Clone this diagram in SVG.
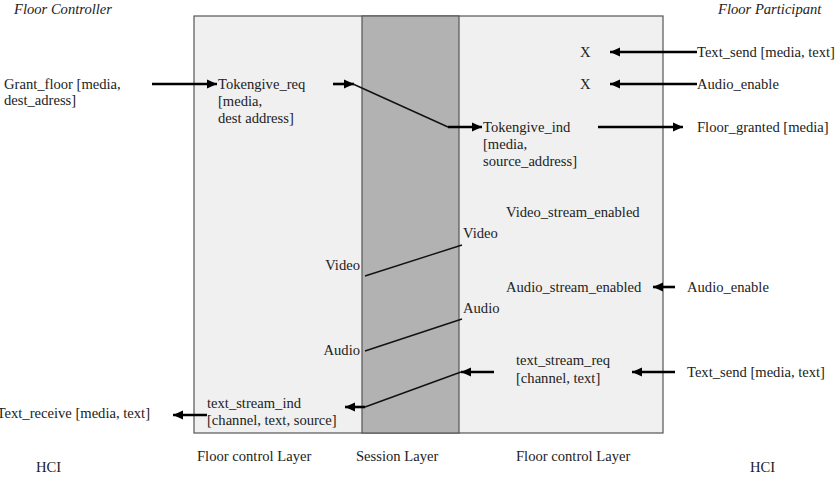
<svg xmlns="http://www.w3.org/2000/svg" width="835" height="486" viewBox="0 0 835 486">
<style>
text{font-family:"Liberation Serif","Times New Roman",serif;font-size:14.6px;fill:#222}
.it{font-style:italic}
.arr{stroke:#000;stroke-width:2.6;fill:none;marker-end:url(#ah)}
.thin{stroke:#111;stroke-width:1.4;fill:none}
</style>
<defs>
<marker id="ah" markerUnits="userSpaceOnUse" markerWidth="11" markerHeight="10" refX="10" refY="5" orient="auto">
<path d="M0,0.5 L10,5 L0,9.5 Z" fill="#000"/>
</marker>
</defs>
<g id="layers">
<rect x="194" y="16" width="469" height="417" fill="#f0f0f0" stroke="#555" stroke-width="1.2"/>
<rect x="362" y="16" width="97" height="417" fill="#b2b2b2" stroke="#555" stroke-width="1.2"/>
</g>
<g id="headers">
<text class="it" x="14" y="14">Floor Controller</text>
<text class="it" x="718" y="14">Floor Participant</text>
<text x="197" y="461">Floor control Layer</text>
<text x="356" y="461">Session Layer</text>
<text x="516" y="461">Floor control Layer</text>
<text x="36" y="472">HCI</text>
<text x="750" y="472">HCI</text>
</g>
<g id="grant_floor"><text x="4" y="89">Grant_floor [media,</text><text x="4" y="105">dest_adress]</text></g>
<g id="tokengive_req"><text x="218" y="89">Tokengive_req</text><text x="218" y="106">[media,</text><text x="218" y="123">dest  address]</text></g>
<g id="tokengive_ind"><text x="483" y="132">Tokengive_ind</text><text x="483" y="149">[media,</text><text x="483" y="166">source_address]</text></g>
<g id="floor_granted"><text x="697" y="132">Floor_granted [media]</text></g>
<g id="x1"><text x="580" y="57">X</text></g>
<g id="x2"><text x="580" y="89">X</text></g>
<g id="text_send_top"><text x="697" y="57">Text_send [media, text]</text></g>
<g id="audio_enable_top"><text x="697" y="89">Audio_enable</text></g>
<g id="video_stream_enabled"><text x="506" y="217">Video_stream_enabled</text></g>
<g id="video_r"><text x="463" y="238">Video</text></g>
<g id="video_l"><text x="360" y="270" text-anchor="end">Video</text></g>
<g id="audio_stream_enabled"><text x="506" y="292">Audio_stream_enabled</text></g>
<g id="audio_enable"><text x="687" y="292">Audio_enable</text></g>
<g id="audio_r"><text x="463" y="313">Audio</text></g>
<g id="audio_l"><text x="360" y="355" text-anchor="end">Audio</text></g>
<g id="text_stream_req"><text x="516" y="365">text_stream_req</text><text x="516" y="383">[channel, text]</text></g>
<g id="text_send"><text x="687" y="377">Text_send [media, text]</text></g>
<g id="text_stream_ind"><text x="207" y="408">text_stream_ind</text><text x="207" y="425">[channel, text, source]</text></g>
<g id="text_receive"><text x="150" y="418" text-anchor="end">Text_receive [media, text]</text></g>
<g id="connectors">
<line class="arr" x1="152" y1="84" x2="217" y2="84"/>
<line class="arr" x1="333" y1="84" x2="354" y2="84"/>
<line class="thin" x1="353" y1="84" x2="448" y2="127"/>
<line class="arr" x1="448" y1="127" x2="482" y2="127"/>
<line class="arr" x1="598" y1="127" x2="683" y2="127"/>
<line class="arr" x1="697" y1="52" x2="610" y2="52"/>
<line class="arr" x1="697" y1="84" x2="610" y2="84"/>
<line class="thin" x1="365" y1="276" x2="462" y2="245"/>
<line class="arr" x1="675" y1="287" x2="653" y2="287"/>
<line class="thin" x1="365" y1="351" x2="462" y2="319"/>
<line class="arr" x1="494" y1="372" x2="461" y2="372"/>
<line class="thin" x1="461" y1="372" x2="365" y2="407"/>
<line class="arr" x1="675" y1="372" x2="632" y2="372"/>
<line class="arr" x1="365" y1="407" x2="345" y2="407"/>
<line class="arr" x1="207" y1="415" x2="173" y2="415"/>
</g>
</svg>
